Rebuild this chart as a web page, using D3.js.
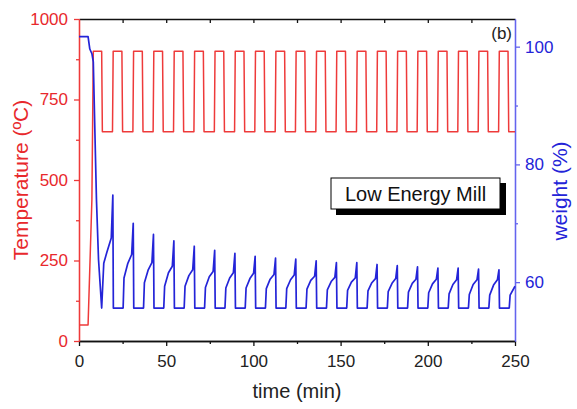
<!DOCTYPE html>
<html>
<head>
<meta charset="utf-8">
<script src="https://cdn.jsdelivr.net/npm/d3@7"></script>
<style>
  html, body { margin: 0; padding: 0; background: #fff; }
  svg { display: block; font-family: "Liberation Sans", Arial, sans-serif; }
</style>
</head>
<body>
<svg id="chart" width="577" height="409"></svg>
<script>
// ---------- data ----------
const xTicksMajor = [0, 50, 100, 150, 200, 250];
const xTicksMinor = [25, 75, 125, 175, 225];
const xTicksTop = [25, 50, 75, 100, 125, 150, 175, 200, 225];
const tempTicksMajor = [0, 250, 500, 750, 1000];
const tempTicksMinor = [125, 375, 625, 875];
const weightTicksMajor = [60, 80, 100];
const weightTicksMinor = [70, 90];

const tempTime = [0, 5.2, 7.4, 8.2, 13.0, 13.4,
  19.2, 19.6, 24.6, 25.0,
  30.9, 31.3, 36.3, 36.7,
  42.5, 42.9, 47.9, 48.3,
  54.2, 54.6, 59.6, 60.0,
  65.9, 66.3, 71.3, 71.7,
  77.6, 78.0, 83.0, 83.4,
  89.2, 89.6, 94.6, 95.0,
  100.8, 101.2, 106.2, 106.6,
  112.5, 112.9, 117.9, 118.3,
  124.1, 124.5, 129.5, 129.9,
  135.8, 136.2, 141.2, 141.6,
  147.4, 147.8, 152.8, 153.2,
  159.1, 159.5, 164.5, 164.9,
  170.7, 171.1, 176.1, 176.5,
  182.3, 182.7, 187.7, 188.1,
  193.9, 194.3, 199.3, 199.7,
  205.6, 206.0, 211.0, 211.4,
  217.2, 217.6, 222.6, 223.0,
  228.9, 229.3, 234.3, 234.7,
  240.6, 241.0, 246.0, 246.4,
  250];
const tempValue = [50, 50, 440, 900, 900, 650,
  650, 900, 900, 650,
  650, 900, 900, 650,
  650, 900, 900, 650,
  650, 900, 900, 650,
  650, 900, 900, 650,
  650, 900, 900, 650,
  650, 900, 900, 650,
  650, 900, 900, 650,
  650, 900, 900, 650,
  650, 900, 900, 650,
  650, 900, 900, 650,
  650, 900, 900, 650,
  650, 900, 900, 650,
  650, 900, 900, 650,
  650, 900, 900, 650,
  650, 900, 900, 650,
  650, 900, 900, 650,
  650, 900, 900, 650,
  650, 900, 900, 650,
  650, 900, 900, 650,
  650];

const weightTime = [0, 5.2, 6.2, 7.4, 8.2, 9.4, 10.0, 11.2, 13.0, 14.2, 15.9, 18.5, 19.4,
  19.7, 25.3, 25.8, 28.0, 30.2, 31.1,
  31.4, 37.0, 37.5, 39.7, 41.8, 42.7,
  43.0, 48.6, 49.1, 51.3, 53.5, 54.4,
  54.7, 60.3, 60.8, 63.0, 65.2, 66.1,
  66.4, 72.0, 72.5, 74.7, 76.9, 77.8,
  78.1, 83.7, 84.2, 86.4, 88.5, 89.4,
  89.7, 95.3, 95.8, 98.0, 100.1, 101.0,
  101.3, 106.9, 107.4, 109.6, 111.8, 112.7,
  113.0, 118.6, 119.1, 121.3, 123.4, 124.3,
  124.6, 130.2, 130.7, 132.9, 135.1, 136.0,
  136.3, 141.9, 142.4, 144.6, 146.7, 147.6,
  147.9, 153.5, 154.0, 156.2, 158.4, 159.3,
  159.6, 165.2, 165.7, 167.9, 170.0, 170.9,
  171.2, 176.8, 177.3, 179.5, 181.6, 182.5,
  182.8, 188.4, 188.9, 191.1, 193.2, 194.1,
  194.4, 200.0, 200.5, 202.7, 204.9, 205.8,
  206.1, 211.7, 212.2, 214.4, 216.5, 217.4,
  217.7, 223.3, 223.8, 226.0, 228.2, 229.1,
  229.4, 235.0, 235.5, 237.7, 239.9, 240.8,
  241.1, 246.7, 247.2, 250];
const weightValue = [101.7, 101.7, 99.6, 98.8, 97.4, 81.8, 74.1, 63.8, 55.6, 63.2, 65.0, 67.5, 74.8,
  55.6, 55.6, 60.7, 63.2, 64.7, 70.0,
  55.6, 55.6, 59.9, 62.1, 63.3, 68.1,
  55.6, 55.6, 59.3, 61.6, 62.7, 67.0,
  55.6, 55.6, 59.3, 61.1, 62.1, 66.1,
  55.6, 55.6, 59.1, 60.9, 61.8, 65.4,
  55.6, 55.6, 59.0, 60.7, 61.6, 64.9,
  55.6, 55.6, 59.0, 60.6, 61.5, 64.4,
  55.6, 55.6, 58.9, 60.5, 61.3, 64.1,
  55.6, 55.6, 58.9, 60.4, 61.2, 63.9,
  55.6, 55.6, 58.8, 60.3, 61.0, 63.6,
  55.6, 55.6, 58.7, 60.1, 60.8, 63.3,
  55.6, 55.6, 58.6, 60.0, 60.7, 63.3,
  55.6, 55.6, 58.5, 59.9, 60.6, 63.0,
  55.6, 55.6, 58.4, 59.8, 60.6, 62.8,
  55.6, 55.6, 58.3, 59.8, 60.5, 62.6,
  55.6, 55.6, 58.2, 59.7, 60.5, 62.4,
  55.6, 55.6, 58.0, 59.6, 60.4, 62.4,
  55.6, 55.6, 57.9, 59.6, 60.4, 62.2,
  55.6, 55.6, 57.8, 59.5, 60.4, 62.1,
  55.6, 55.6, 57.8, 59.3];

const xLabel = "time (min)";
const tempLabel = "Temperature (ºC)";
const weightLabel = "weight (%)";
const legendText = "Low Energy Mill";
const panelTag = "(b)";

// ---------- layout ----------
const RED = "#e8282c", RED_LINE = "#ee3a3a", BLUE = "#2424d8", BLUE_AXIS = "#6464ee";
const mLeft = 79, mRight = 515, mTop = 19, mBottom = 341;
const svg = d3.select("#chart");
const fmt = d3.format("d");

const x = d3.scaleLinear().domain([0, 250]).range([mLeft, mRight]);
const yT = d3.scaleLinear().domain([0, 1000]).range([mBottom, mTop]);
const yW = d3.scaleLinear().domain([50, 104.7]).range([mBottom, mTop]);

function styleAxis(g, color, fs) {
  g.selectAll("path").attr("stroke", color).attr("stroke-width", 1.3);
  g.selectAll("line").attr("stroke", color).attr("stroke-width", 1.3);
  g.selectAll("text").attr("fill", color).style("font-size", fs + "px")
    .style("font-family", '"Liberation Sans", Arial, sans-serif');
}

// top axis (black, inward ticks)
const gTop = svg.append("g").attr("transform", `translate(0,${mTop})`)
  .call(d3.axisTop(x).tickValues(xTicksTop).tickSizeInner(-4).tickSizeOuter(0).tickFormat(""));
styleAxis(gTop, "#111", 17);

// bottom axis
const gBotMinor = svg.append("g").attr("transform", `translate(0,${mBottom})`)
  .call(d3.axisBottom(x).tickValues(xTicksMinor).tickSizeInner(3).tickSizeOuter(0).tickFormat(""));
styleAxis(gBotMinor, "#111", 17);
const gBot = svg.append("g").attr("transform", `translate(0,${mBottom})`)
  .call(d3.axisBottom(x).tickValues(xTicksMajor).tickSizeInner(5).tickSizeOuter(0).tickPadding(9).tickFormat(fmt));
styleAxis(gBot, "#111", 17);
gBot.selectAll("text").attr("fill", "#222");

// left axis (red)
const gLeftMinor = svg.append("g").attr("transform", `translate(${mLeft},0)`)
  .call(d3.axisLeft(yT).tickValues(tempTicksMinor).tickSizeInner(3).tickSizeOuter(0).tickFormat(""));
styleAxis(gLeftMinor, RED_LINE, 17);
const gLeft = svg.append("g").attr("transform", `translate(${mLeft},0)`)
  .call(d3.axisLeft(yT).tickValues(tempTicksMajor).tickSizeInner(5).tickSizeOuter(0).tickPadding(6).tickFormat(fmt));
styleAxis(gLeft, RED_LINE, 17);
gLeft.selectAll("text").attr("fill", RED);

// right axis (blue)
const gRightMinor = svg.append("g").attr("transform", `translate(${mRight},0)`)
  .call(d3.axisRight(yW).tickValues(weightTicksMinor).tickSizeInner(3).tickSizeOuter(0).tickFormat(""));
styleAxis(gRightMinor, BLUE_AXIS, 17);
const gRight = svg.append("g").attr("transform", `translate(${mRight},0)`)
  .call(d3.axisRight(yW).tickValues(weightTicksMajor).tickSizeInner(5).tickSizeOuter(0).tickPadding(5).tickFormat(fmt));
styleAxis(gRight, BLUE_AXIS, 17);
gRight.selectAll("text").attr("fill", BLUE);

// ---------- lines ----------
const tempData = tempTime.map((t, i) => [t, tempValue[i]]);
const weightData = weightTime.map((t, i) => [t, weightValue[i]]);

svg.append("path").datum(tempData)
  .attr("fill", "none").attr("stroke", RED_LINE).attr("stroke-width", 1.5)
  .attr("stroke-linejoin", "round")
  .attr("d", d3.line().x(d => x(d[0])).y(d => yT(d[1])));

svg.append("path").datum(weightData)
  .attr("fill", "none").attr("stroke", BLUE).attr("stroke-width", 1.7)
  .attr("stroke-linejoin", "round")
  .attr("d", d3.line().x(d => x(d[0])).y(d => yW(d[1])));

// ---------- labels ----------
svg.append("text").attr("x", (mLeft + mRight) / 2).attr("y", 398)
  .attr("text-anchor", "middle").attr("fill", "#222").style("font-size", "20px")
  .text(xLabel);

svg.append("text").attr("transform", `translate(28,${(mTop + mBottom) / 2}) rotate(-90)`)
  .attr("text-anchor", "middle").attr("fill", RED).style("font-size", "21px")
  .text(tempLabel);

svg.append("text").attr("transform", `translate(567,191) rotate(-90)`)
  .attr("text-anchor", "middle").attr("fill", BLUE).style("font-size", "21px")
  .text(weightLabel);

svg.append("text").attr("x", 512).attr("y", 39).attr("text-anchor", "end")
  .attr("fill", "#222").style("font-size", "17px").text(panelTag);

// legend box with shadow
svg.append("rect").attr("x", 336).attr("y", 183).attr("width", 170).attr("height", 32).attr("fill", "#000");
svg.append("rect").attr("x", 331).attr("y", 178).attr("width", 169).attr("height", 31)
  .attr("fill", "#fff").attr("stroke", "#000").attr("stroke-width", 1);
svg.append("text").attr("x", 415.5).attr("y", 201).attr("text-anchor", "middle")
  .attr("fill", "#111").style("font-size", "20px").text(legendText);
</script>
</body>
</html>
